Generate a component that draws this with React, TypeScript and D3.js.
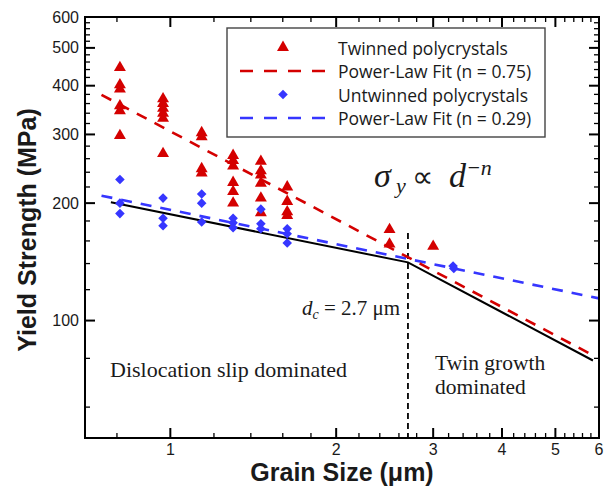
import React from 'react';
import * as d3 from 'd3';

// grain size (um) and yield strength (MPa)
const twinnedSize = [
  0.81, 0.81, 0.81, 0.81, 0.81, 0.81,
  0.97, 0.97, 0.97, 0.97, 0.97, 0.97,
  1.14, 1.14, 1.14, 1.14,
  1.3, 1.3, 1.3, 1.3, 1.3, 1.3,
  1.46, 1.46, 1.46, 1.46, 1.46, 1.46,
  1.63, 1.63, 1.63, 1.63,
  2.5, 2.5, 3.0,
];
const twinnedStrength = [
  445, 402, 392, 355, 345, 298,
  370, 360, 350, 340, 330, 268,
  303, 296, 245, 239,
  265, 257, 249, 226, 214, 200,
  256, 242, 236, 225, 206, 189,
  220, 202, 190, 186,
  171, 157, 155,
];
const untwinnedSize = [
  0.81, 0.81, 0.81,
  0.97, 0.97, 0.97,
  1.14, 1.14, 1.14,
  1.3, 1.3, 1.3,
  1.46, 1.46, 1.46,
  1.63, 1.63, 1.63,
  3.26, 3.27,
];
const untwinnedStrength = [
  230, 200, 188,
  206, 183, 175,
  211, 200, 179,
  183, 178, 173,
  193, 177, 172,
  172, 167, 158,
  138, 136,
];

// fit lines (end points) and the bilinear model
const twinnedFit: [number, number][] = [[0.75, 379], [5.8, 82]];
const untwinnedFit: [number, number][] = [[0.75, 209], [6, 114]];
const modelLine: [number, number][] = [[0.78, 201], [2.7, 141], [5.85, 79]];
const criticalSize = 2.7;

const xTickLabels = [1, 2, 3, 4, 5, 6];
const yTickLabels = [100, 200, 300, 400, 500, 600];

const legendItems = [
  { label: 'Twinned polycrystals', kind: 'triangle' },
  { label: 'Power-Law Fit (n = 0.75)', kind: 'redline' },
  { label: 'Untwinned polycrystals', kind: 'diamond' },
  { label: 'Power-Law Fit (n = 0.29)', kind: 'blueline' },
];

const RED = '#d40000';
const BLUE = '#3636ff';
const TEXT = '#1a1a1a';

export default function App() {
  const width = 613;
  const height = 490;
  const left = 85, right = 599, top = 17, bottom = 438;

  const x = d3.scaleLog().domain([0.7, 6]).range([left, right]);
  const y = d3.scaleLog().domain([50, 600]).range([bottom, top]);

  const xMinor = d3.range(0.8, 6, 0.2).filter(v => Math.abs(v - Math.round(v)) > 0.05);
  const yMinor = d3.range(60, 600, 20).filter(v => v % 100 !== 0);

  const line = d3.line<[number, number]>().x(d => x(d[0])).y(d => y(d[1]));
  const tri = d3.symbol().type(d3.symbolTriangle).size(62)()!;
  const dia = d3.symbol().type(d3.symbolSquare).size(46)()!;

  const axisFont = '"Liberation Sans", Arial, sans-serif';
  const serif = '"Liberation Serif", "Times New Roman", serif';

  return (
    <svg width={width} height={height} style={{ position: 'absolute', left: 0, top: 0 }}
      fontFamily={axisFont}>
      <rect width={width} height={height} fill="#fff" />

      {/* ticks, all four sides, pointing inward */}
      <g stroke="#000" strokeWidth={1.3}>
        {xTickLabels.map(v => (
          <g key={'xm' + v}>
            <line x1={x(v)} x2={x(v)} y1={bottom} y2={bottom - 10} strokeWidth={2} />
            <line x1={x(v)} x2={x(v)} y1={top} y2={top + 10} strokeWidth={2} />
          </g>
        ))}
        {xMinor.map(v => (
          <g key={'xn' + v}>
            <line x1={x(v)} x2={x(v)} y1={bottom} y2={bottom - 5} />
            <line x1={x(v)} x2={x(v)} y1={top} y2={top + 5} />
          </g>
        ))}
        {yTickLabels.map(v => (
          <g key={'ym' + v}>
            <line x1={left} x2={left + 10} y1={y(v)} y2={y(v)} strokeWidth={2} />
            <line x1={right} x2={right - 10} y1={y(v)} y2={y(v)} strokeWidth={2} />
          </g>
        ))}
        {yMinor.map(v => (
          <g key={'yn' + v}>
            <line x1={left} x2={left + 5} y1={y(v)} y2={y(v)} />
            <line x1={right} x2={right - 5} y1={y(v)} y2={y(v)} />
          </g>
        ))}
      </g>

      {/* tick labels */}
      <g fontSize={16} fill={TEXT}>
        {xTickLabels.map(v => (
          <text key={'xl' + v} x={x(v)} y={455} textAnchor="middle">{v}</text>
        ))}
        {yTickLabels.map(v => (
          <text key={'yl' + v} x={79} y={y(v)} textAnchor="end" dominantBaseline="central">{v}</text>
        ))}
      </g>

      {/* axis titles */}
      <text x={342} y={481} textAnchor="middle" fontSize={25} fontWeight="bold" fill={TEXT}>
        Grain Size (μm)
      </text>
      <text transform="translate(36,230) rotate(-90)" textAnchor="middle" fontSize={25}
        fontWeight="bold" fill={TEXT}>
        Yield Strength (MPa)
      </text>

      {/* critical grain size */}
      <line x1={x(criticalSize)} x2={x(criticalSize)} y1={233} y2={bottom}
        stroke="#000" strokeWidth={1.8} strokeDasharray="6,4" />

      {/* fits */}
      <path d={line(untwinnedFit)!} fill="none" stroke={BLUE} strokeWidth={2.6} strokeDasharray="11,9" />
      <path d={line(twinnedFit)!} fill="none" stroke={RED} strokeWidth={2.6} strokeDasharray="11,9" />
      <path d={line(modelLine)!} fill="none" stroke="#000" strokeWidth={2} />

      {/* data */}
      {twinnedSize.map((d, i) => (
        <path key={'t' + i} d={tri} fill={RED}
          transform={`translate(${x(d)},${y(twinnedStrength[i])})`} />
      ))}
      {untwinnedSize.map((d, i) => (
        <path key={'u' + i} d={dia} fill={BLUE}
          transform={`translate(${x(d)},${y(untwinnedStrength[i])}) rotate(45)`} />
      ))}

      {/* frame */}
      <rect x={left} y={top} width={right - left} height={bottom - top}
        fill="none" stroke="#000" strokeWidth={2} />

      {/* legend */}
      <g>
        <rect x={227} y={28} width={318} height={109} fill="#fff" stroke="#444" strokeWidth={1.4} />
        {legendItems.map((it, i) => {
          const cy = 47.5 + i * 23.5;
          return (
            <g key={it.label}>
              {it.kind === 'triangle' && <path d={tri} fill={RED} transform={`translate(283,${cy})`} />}
              {it.kind === 'diamond' && <path d={dia} fill={BLUE} transform={`translate(283,${cy}) rotate(45)`} />}
              {(it.kind === 'redline' || it.kind === 'blueline') && (
                <line x1={240} x2={326} y1={cy} y2={cy} stroke={it.kind === 'redline' ? RED : BLUE}
                  strokeWidth={2.6} strokeDasharray="13,11" />
              )}
              <text x={338} y={cy} dominantBaseline="central" fontSize={17.5}
                fontFamily='"Open Sans", sans-serif' fill={TEXT}>{it.label}</text>
            </g>
          );
        })}
      </g>

      {/* power law relation */}
      <g fontFamily={serif} fill={TEXT} fontStyle="italic">
        <text x={374} y={187} fontSize={34}>σ</text>
        <text x={396} y={193} fontSize={22}>y</text>
        <text x={412} y={187} fontSize={30} fontStyle="normal">∝</text>
        <text x={449} y={187} fontSize={34}>d</text>
        <text x={466} y={175} fontSize={22}>−n</text>
      </g>

      {/* annotations */}
      <g fontFamily={serif} fill={TEXT} fontSize={21}>
        <text x={302} y={315}>
          <tspan fontStyle="italic">d</tspan>
          <tspan fontStyle="italic" fontSize={14} dy={4}>c</tspan>
          <tspan dy={-4}> = 2.7 μm</tspan>
        </text>
        <text x={110} y={377} fontSize={22}>Dislocation slip dominated</text>
        <text x={435} y={369.5} fontSize={21.5}>Twin growth</text>
        <text x={435} y={393.5} fontSize={21.5}>dominated</text>
      </g>
    </svg>
  );
}
